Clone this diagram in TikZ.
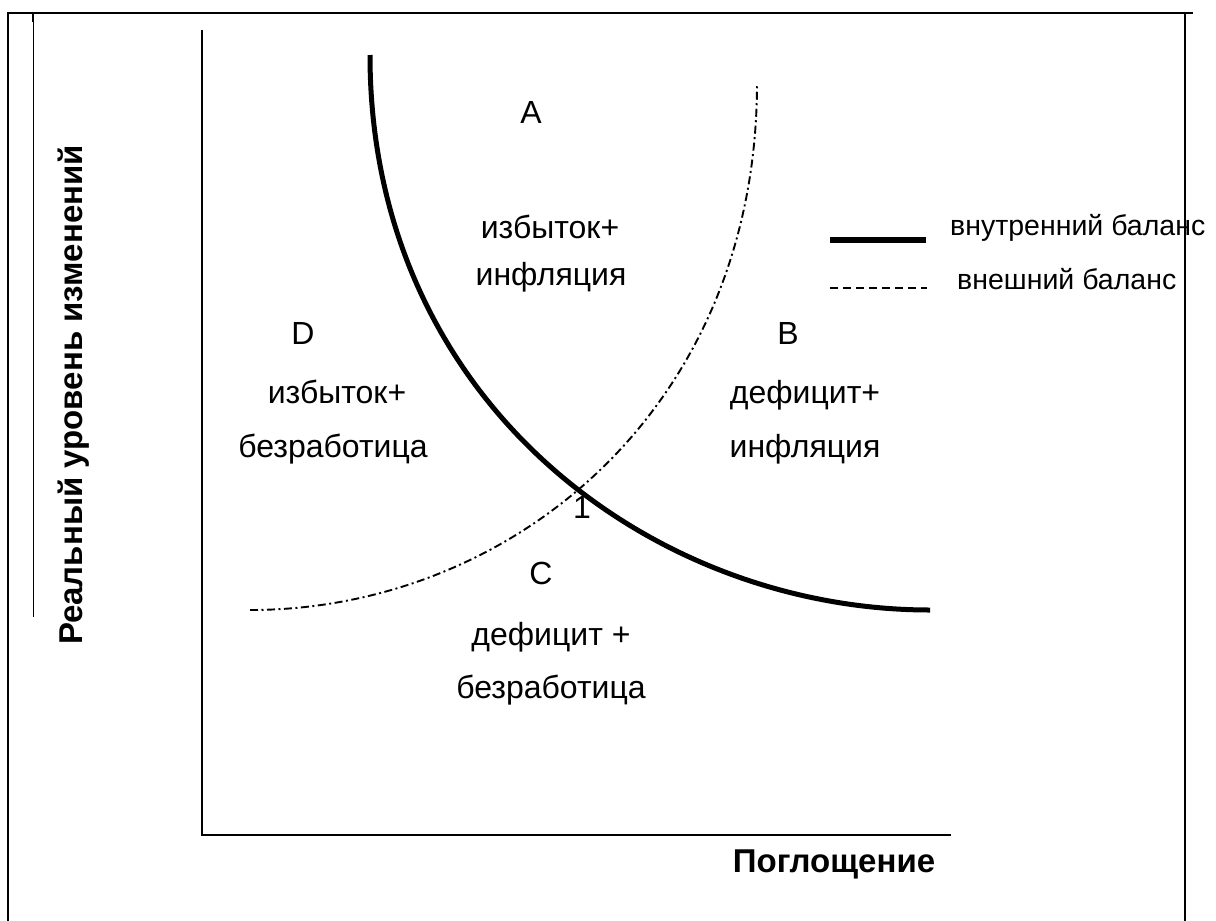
\documentclass[tikz,border=0pt]{standalone}
\usepackage{fontspec}
\setmainfont{Liberation Sans}
\begin{document}
\begin{tikzpicture}[x=1pt,y=-1pt]
\tikzset{
  reg/.style={font=\fontsize{32}{38}\selectfont, anchor=base, inner sep=0pt},
  leg/.style={font=\fontsize{28.5}{34}\selectfont, anchor=base west, inner sep=0pt},
  axlab/.style={font=\bfseries\fontsize{33}{39}\selectfont, inner sep=0pt, anchor=base},
  frameline/.style={line width=1.5pt},
  thinline/.style={line width=1pt},
  axisline/.style={line width=1.5pt},
  thickcurve/.style={line width=5pt},
  dashcurve/.style={line width=1.9pt, dash pattern=on 8pt off 3.5pt on 2pt off 3.5pt},
  legdash/.style={line width=1.4pt, dash pattern=on 8pt off 5pt},
}
\useasboundingbox (0,0) rectangle (1216,921);
\fill[white] (0,0) rectangle (1216,921);
% frame
\draw[frameline] (8,921) -- (8,13) -- (1193,13);
\draw[frameline] (1185,13) -- (1185,921);
\draw[frameline] (33,13) -- (33,22);
\draw[thinline] (33,22) -- (33,617);
% axes
\coordinate (ytop) at (202,30);
\coordinate (origin) at (202,835);
\coordinate (xend) at (951,835);
\draw[axisline] (ytop) -- (origin) -- (xend);
% internal balance (solid)
\coordinate (ib0) at (370,55);
\coordinate (ib1) at (370,400);
\coordinate (ib2) at (650,610);
\coordinate (ib3) at (930,610);
\draw[thickcurve] (ib0) .. controls (ib1) and (ib2) .. (ib3);
% external balance (dash-dot)
\coordinate (eb0) at (250,610);
\coordinate (eb1) at (510,610);
\coordinate (eb2) at (757,410);
\coordinate (eb3) at (757,83);
\draw[dashcurve] (eb0) .. controls (eb1) and (eb2) .. (eb3);
% legend
\coordinate (l1a) at (830,240); \coordinate (l1b) at (926,240);
\coordinate (l2a) at (830,288); \coordinate (l2b) at (927,288);
\draw[line width=6pt] (l1a) -- (l1b);
\draw[legdash] (l2a) -- (l2b);
\node[leg] (leg1) at (950,235) {внутренний баланс};
\node[leg] (leg2) at (957,289) {внешний баланс};
% region labels
\node[reg] (A) at (531,123) {A};
\node[reg] (a1) at (550,238) {избыток+};
\node[reg] (a2) at (551,285) {инфляция};
\node[reg] (D) at (303,344) {D};
\node[reg] (d1) at (337,403) {избыток+};
\node[reg] (d2) at (333,457) {безработица};
\node[reg] (B) at (788,344) {B};
\node[reg] (b1) at (805,403) {дефицит+};
\node[reg] (b2) at (805,457) {инфляция};
\node[reg] (one) at (582,518) {1};
\node[reg] (C) at (541,584) {C};
\node[reg] (c1) at (551,645) {дефицит +};
\node[reg] (c2) at (551,698) {безработица};
% axis labels
\node[axlab] (xlab) at (834,872) {Поглощение};
\node[axlab, rotate=90] (ylab) at (82,395) {Реальный уровень изменений};
\end{tikzpicture}
\end{document}
